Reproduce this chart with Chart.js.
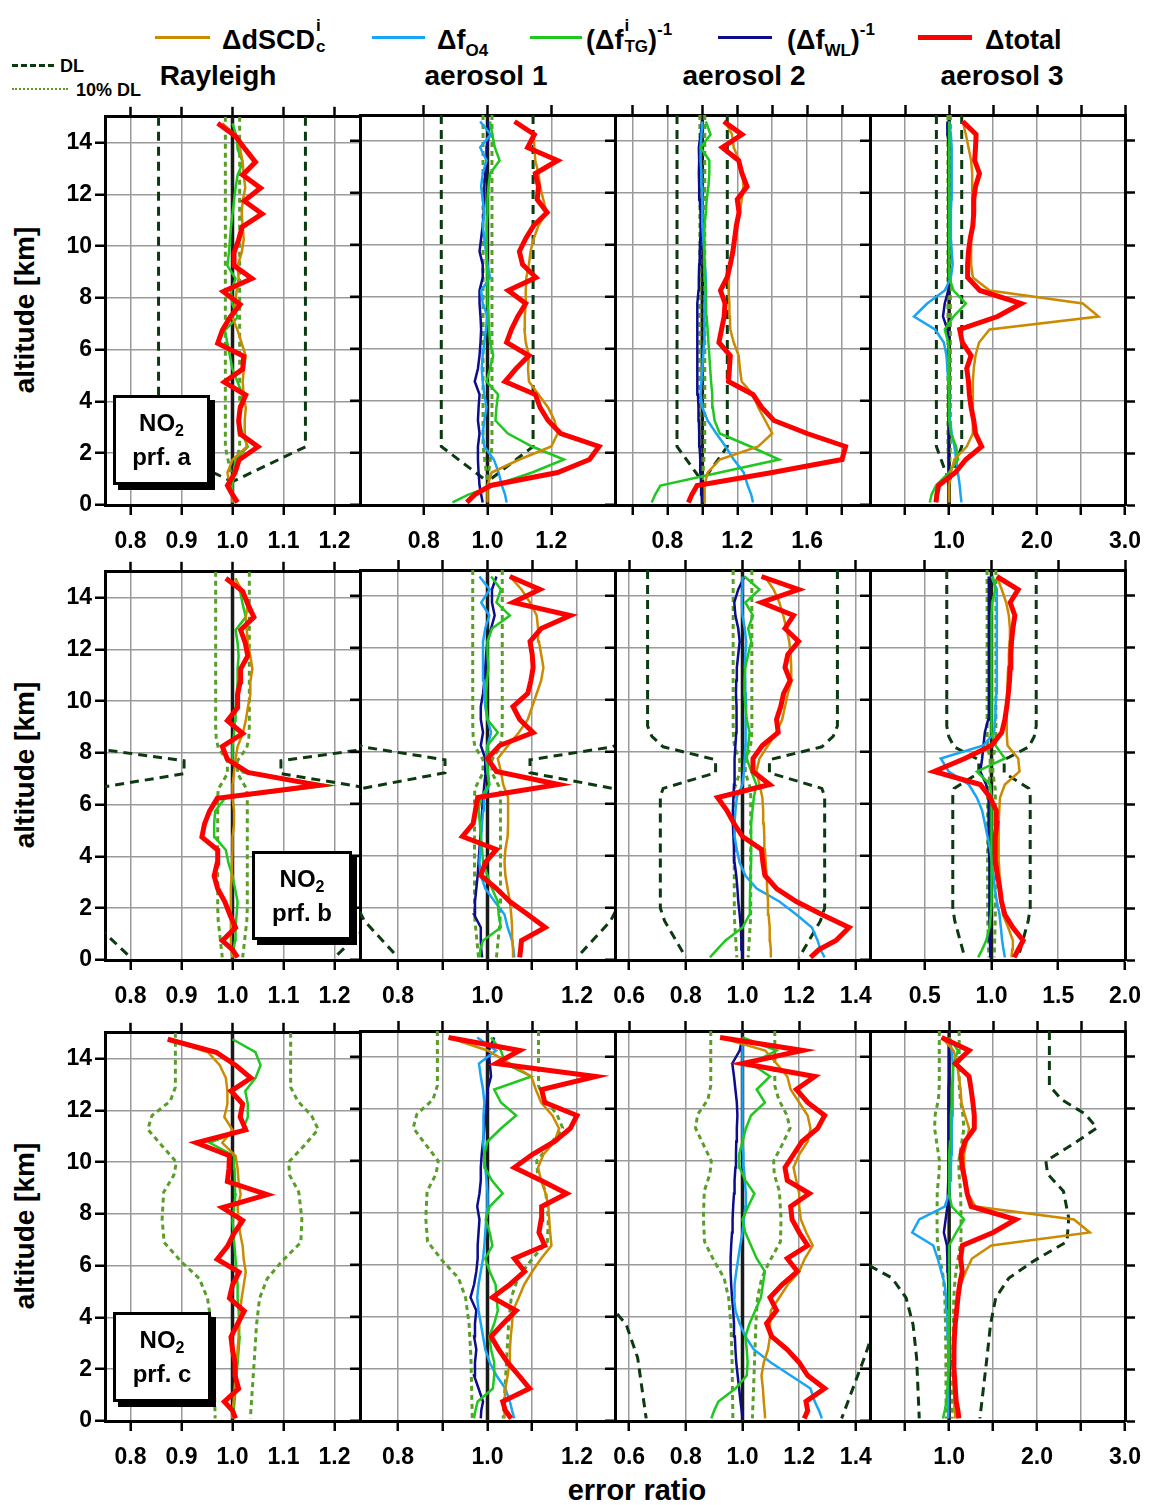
<!DOCTYPE html>
<html>
<head>
<meta charset="utf-8">
<title>NO2 error ratio profiles</title>
<script src="https://cdn.jsdelivr.net/npm/chart.js@4.4.1/dist/chart.umd.min.js"></script>
<style>
html,body{margin:0;padding:0;background:#fff}
body{width:1152px;height:1505px;position:relative;overflow:hidden;font-family:'Liberation Sans',Arial,sans-serif}
canvas{position:absolute}
.t{position:absolute;font-weight:bold;color:#000;white-space:nowrap;line-height:1}
.lt{font-size:27px}
.lt sub{font-size:17px;vertical-align:-7px;line-height:0}
.lt sup{font-size:17px;vertical-align:14px;line-height:0}
.stk{display:inline-flex;flex-direction:column;font-size:17px;line-height:21px;vertical-align:top;position:relative;top:-12px;margin-left:1px}
.sw{position:absolute}
.ttl{font-size:28px}
.ylab{font-size:28px;transform:translate(-50%,-50%) rotate(-90deg)}
.box{position:absolute;background:#fff;border:3px solid #000;box-shadow:5px 5px 0 #000;font-weight:bold;font-size:24px;text-align:center;line-height:34px;box-sizing:border-box;padding-top:8px}
.box sub{font-size:16px;vertical-align:-5px;line-height:0}
</style>
</head>
<body>
<!-- legend -->
<div class="sw" style="left:155px;top:36px;width:55px;height:3px;background:#cc8a00"></div>
<div class="t lt" style="left:222px;top:27px">ΔdSCD<span class="stk"><span>i</span><span>c</span></span></div>
<div class="sw" style="left:372px;top:36px;width:53px;height:3px;background:#19a5f5"></div>
<div class="t lt" style="left:437px;top:27px">Δf<sub>O4</sub></div>
<div class="sw" style="left:530px;top:36px;width:52px;height:3px;background:#1ec81e"></div>
<div class="t lt" style="left:586px;top:27px">(Δf<span class="stk"><span>i</span><span>TG</span></span>)<sup>-1</sup></div>
<div class="sw" style="left:718px;top:36px;width:54px;height:3px;background:#0c0c8c"></div>
<div class="t lt" style="left:787px;top:27px">(Δf<sub>WL</sub>)<sup>-1</sup></div>
<div class="sw" style="left:918px;top:35px;width:54px;height:5px;background:#ff0000"></div>
<div class="t lt" style="left:985px;top:27px">Δtotal</div>

<div class="sw" style="left:12px;top:64px;width:42px;height:0;border-top:3px dashed #0b3a10"></div>
<div class="t" style="left:60px;top:57px;font-size:18px">DL</div>
<div class="sw" style="left:12px;top:88px;width:56px;height:0;border-top:2px dotted #5a9e2a"></div>
<div class="t" style="left:76px;top:81px;font-size:18px">10% DL</div>

<div class="t ttl" style="left:218px;top:62px;transform:translateX(-50%)">Rayleigh</div>
<div class="t ttl" style="left:486px;top:62px;transform:translateX(-50%)">aerosol 1</div>
<div class="t ttl" style="left:744px;top:62px;transform:translateX(-50%)">aerosol 2</div>
<div class="t ttl" style="left:1002px;top:62px;transform:translateX(-50%)">aerosol 3</div>

<div class="t ylab" style="left:25px;top:310px">altitude [km]</div>
<div class="t ylab" style="left:25px;top:765px">altitude [km]</div>
<div class="t ylab" style="left:25px;top:1226px">altitude [km]</div>
<div class="t" style="left:637px;top:1476px;font-size:29px;transform:translateX(-50%)">error ratio</div>

<script>
// ---------- altitude grid (km) ----------
const ALT = [0.1, 0.4, 0.75, 1.25, 1.75, 2.25, 2.75, 3.25, 3.75, 4.25,
  4.75, 5.25, 5.75, 6.25, 6.75, 7.25, 7.75, 8.25, 8.75, 9.25,
  9.75, 10.25, 10.75, 11.25, 11.75, 12.25, 12.75, 13.25, 13.75, 14.25, 14.75];

// ---------- NO2 profile a ----------
const PA_RAY_TOT = [1.01, 1.0, 0.99, 1.005, 1.013, 1.05, 1.015, 1.012, 1.015, 1.026,
  0.984, 1.02, 1.022, 0.971, 0.98, 0.995, 1.015, 0.982, 1.038, 1.003,
  1.003, 1.012, 1.019, 1.058, 1.023, 1.055, 1.02, 1.045, 1.025, 1.006, 0.971];
const PA_RAY_DSCD = [1.0, 1.0, 0.995, 0.99, 1.0, 1.028, 1.024, 1.024, 1.026, 1.022,
  1.02, 1.022, 1.026, 1.018, 1.01, 1.0, 1.005, 1.008, 1.012, 1.01,
  1.018, 1.022, 1.02, 1.018, 1.02, 1.025, 1.022, 1.02, 1.015, 1.008, 0.98];
const PA_RAY_TG = [1.0, 1.0, 1.0, 1.002, 1.006, 1.03, 1.02, 1.013, 1.015, 1.02,
  1.01, 1.0, 0.995, 0.99, 0.985, 1.01, 1.0, 0.997, 1.006, 0.99,
  0.993, 0.995, 0.997, 1.0, 1.003, 1.006, 1.01, 1.02, 1.01, 1.008, 1.0];

const PA_AE1_TOT = [0.935, 0.96, 1.01, 1.22, 1.32, 1.35, 1.23, 1.19, 1.165, 1.15,
  1.055, 1.09, 1.13, 1.06, 1.075, 1.095, 1.12, 1.065, 1.152, 1.11,
  1.1, 1.12, 1.145, 1.187, 1.156, 1.16, 1.15, 1.22, 1.126, 1.147, 1.085];
const PA_AE1_DSCD = [1.0, 1.0, 1.0, 1.013, 1.1, 1.2, 1.22, 1.21, 1.19, 1.16,
  1.13, 1.127, 1.13, 1.12, 1.116, 1.117, 1.12, 1.12, 1.122, 1.13,
  1.135, 1.145, 1.16, 1.185, 1.175, 1.165, 1.16, 1.15, 1.147, 1.145, 1.085];
const PA_AE1_O4 = [1.06, 1.055, 1.045, 1.035, 1.02, 0.99, 0.985, 0.99, 0.997, 0.99,
  0.985, 0.982, 0.985, 0.99, 0.995, 1.0, 0.985, 0.98, 1.008, 1.0,
  0.995, 0.99, 0.985, 0.99, 0.985, 0.98, 0.985, 0.997, 0.977, 1.01, 0.977];
const PA_AE1_TG = [0.89, 0.94, 1.02, 1.14, 1.24, 1.14, 1.064, 1.025, 1.028, 1.033,
  0.997, 1.008, 1.018, 1.008, 1.005, 1.003, 1.0, 1.0, 1.0, 0.998,
  0.997, 0.997, 0.998, 1.0, 1.0, 1.003, 1.008, 1.038, 1.023, 1.015, 1.008];
const PA_AE1_WL = [0.985, 0.98, 0.975, 0.972, 0.97, 0.97, 0.975, 0.97, 0.972, 0.975,
  0.96, 0.97, 0.975, 0.978, 0.98, 0.978, 0.975, 0.975, 0.985, 0.985,
  0.975, 0.98, 0.985, 0.988, 0.99, 0.99, 0.993, 0.997, 0.997, 1.005, 1.0];

const PA_AE2_TOT = [0.92, 0.94, 0.97, 1.4, 1.8, 1.82, 1.6, 1.41, 1.34, 1.29,
  1.15, 1.155, 1.16, 1.095, 1.11, 1.125, 1.13, 1.104, 1.142, 1.16,
  1.175, 1.185, 1.195, 1.21, 1.2, 1.256, 1.227, 1.208, 1.114, 1.227, 1.123];
const PA_AE2_DSCD = [1.01, 1.012, 1.015, 1.03, 1.1, 1.32, 1.4, 1.36, 1.32, 1.29,
  1.225, 1.215, 1.208, 1.18, 1.16, 1.158, 1.155, 1.15, 1.152, 1.16,
  1.17, 1.185, 1.2, 1.215, 1.225, 1.235, 1.23, 1.21, 1.18, 1.17, 1.13];
const PA_AE2_O4 = [1.29, 1.28, 1.26, 1.237, 1.18, 1.133, 1.08, 1.03, 1.0, 0.99,
  0.995, 1.0, 1.005, 1.01, 1.01, 1.012, 1.015, 1.018, 1.02, 1.015,
  1.01, 1.005, 1.0, 1.0, 1.0, 0.998, 0.995, 0.99, 0.99, 0.995, 1.0];
const PA_AE2_TG = [0.71, 0.73, 0.76, 1.1, 1.44, 1.275, 1.1, 1.07, 1.06, 1.057,
  1.05, 1.045, 1.04, 1.035, 1.03, 1.025, 1.022, 1.02, 1.015, 1.012,
  1.01, 1.012, 1.015, 1.02, 1.025, 1.035, 1.04, 1.04, 0.99, 1.047, 1.02];
const PA_AE2_WL = [1.0, 0.998, 0.993, 0.99, 0.988, 0.985, 0.982, 0.98, 0.978, 0.975,
  0.972, 0.97, 0.97, 0.97, 0.97, 0.972, 0.975, 0.978, 0.98, 0.982,
  0.985, 0.988, 0.99, 0.99, 0.985, 0.982, 0.98, 0.982, 0.98, 0.99, 1.0];

const PA_AE3_TOT = [0.85, 0.86, 0.88, 1.07, 1.19, 1.37, 1.3, 1.28, 1.25, 1.23,
  1.22, 1.2, 1.25, 1.15, 1.12, 1.55, 1.82, 1.35, 1.21, 1.21,
  1.22, 1.24, 1.27, 1.28, 1.28, 1.3, 1.345, 1.29, 1.3, 1.307, 1.155];
const PA_AE3_DSCD = [1.0, 1.0, 1.0, 1.02, 1.06, 1.2, 1.27, 1.27, 1.27, 1.27,
  1.27, 1.28, 1.3, 1.34, 1.46, 2.7, 2.52, 1.46, 1.27, 1.25,
  1.25, 1.25, 1.26, 1.26, 1.26, 1.26, 1.27, 1.25, 1.22, 1.19, 1.155];
const PA_AE3_O4 = [1.14, 1.13, 1.12, 1.1, 1.08, 1.06, 1.03, 1.01, 1.0, 1.0,
  0.99, 0.98, 0.97, 0.94, 0.84, 0.6, 0.75, 0.95, 1.02, 1.04,
  1.03, 1.02, 1.02, 1.02, 1.025, 1.025, 1.03, 1.03, 1.03, 1.02, 1.0];
const PA_AE3_TG = [0.78, 0.8, 0.85, 1.0, 1.1, 1.08, 1.02, 1.0, 1.0, 1.0,
  1.0, 1.0, 1.0, 0.99, 0.95, 1.05, 1.19, 1.05, 1.0, 1.0,
  1.0, 1.0, 1.0, 1.0, 1.0, 1.0, 1.0, 1.0, 1.0, 1.0, 1.0];
const PA_AE3_WL = [0.995, 0.995, 0.995, 0.995, 0.995, 0.995, 0.995, 0.995, 0.995, 0.995,
  0.995, 0.995, 0.995, 0.99, 0.98, 0.93, 0.95, 0.99, 0.995, 0.995,
  0.995, 0.995, 0.995, 0.995, 0.995, 0.995, 0.995, 0.995, 0.99, 0.985, 0.98];

// ---------- NO2 profile b ----------
const PB_RAY_TOT = [1.01, 1.0, 0.98, 1.006, 0.995, 0.985, 0.971, 0.964, 0.97, 0.971,
  0.94, 0.945, 0.955, 0.97, 1.169, 1.03, 0.99, 0.98, 1.02, 0.99,
  1.01, 1.01, 1.015, 1.016, 1.03, 1.025, 1.016, 1.042, 1.03, 1.02, 0.987];
const PB_RAY_DSCD = [1.0, 0.997, 0.996, 0.997, 0.997, 0.997, 0.997, 0.998, 0.999, 1.0,
  1.0, 1.003, 1.003, 1.0, 1.0, 1.003, 1.006, 1.01, 1.02, 1.026,
  1.03, 1.035, 1.035, 1.039, 1.035, 1.03, 1.028, 1.026, 1.03, 1.02, 1.005];
const PB_RAY_TG = [1.0, 1.002, 1.005, 1.006, 1.008, 1.01, 1.005, 1.0, 0.992, 0.987,
  0.965, 0.964, 0.966, 0.985, 1.188, 1.02, 1.0, 1.0, 1.003, 1.005,
  1.006, 1.008, 1.01, 1.01, 1.012, 1.01, 1.006, 1.026, 1.02, 1.015, 1.006];

const PB_AE1_TOT = [1.072, 1.074, 1.076, 1.129, 1.09, 1.05, 1.02, 0.985, 0.995, 1.02,
  0.944, 0.968, 0.973, 0.978, 1.159, 1.02, 1.0, 1.027, 1.102, 1.072,
  1.057, 1.09, 1.097, 1.102, 1.1, 1.095, 1.12, 1.185, 1.057, 1.117, 1.05];
const PB_AE1_DSCD = [1.057, 1.057, 1.056, 1.055, 1.053, 1.05, 1.045, 1.04, 1.038, 1.04,
  1.045, 1.046, 1.046, 1.046, 1.035, 1.03, 1.023, 1.046, 1.07, 1.09,
  1.1, 1.11, 1.12, 1.125, 1.12, 1.115, 1.113, 1.11, 1.095, 1.076, 1.05];
const PB_AE1_O4 = [1.06, 1.058, 1.055, 1.045, 1.038, 1.016, 0.995, 0.985, 0.982, 0.984,
  0.986, 0.988, 0.99, 0.992, 1.004, 1.0, 0.997, 1.0, 1.008, 1.0,
  0.995, 0.993, 0.992, 0.99, 0.99, 0.99, 0.995, 1.004, 0.986, 1.005, 0.982];
const PB_AE1_TG = [0.982, 0.984, 0.99, 1.03, 1.025, 1.023, 1.01, 1.0, 0.99, 0.988,
  0.985, 0.983, 0.98, 0.985, 1.004, 1.0, 1.0, 1.0, 1.023, 1.0,
  0.997, 0.997, 0.999, 1.002, 1.0, 1.0, 1.01, 1.05, 1.02, 1.03, 1.008];
const PB_AE1_WL = [0.988, 0.986, 0.985, 0.985, 0.97, 0.972, 0.975, 0.978, 0.98, 0.982,
  0.984, 0.986, 0.988, 0.99, 0.993, 0.996, 0.995, 0.985, 0.99, 0.985,
  0.985, 0.99, 0.993, 0.995, 0.997, 1.0, 1.008, 1.016, 1.01, 1.01, 1.02];

const PB_AE2_TOT = [1.24, 1.27, 1.33, 1.376, 1.28, 1.19, 1.12, 1.079, 1.072, 1.067,
  1.0, 0.97, 0.945, 0.912, 1.096, 1.037, 1.037, 1.07, 1.126, 1.12,
  1.135, 1.145, 1.168, 1.15, 1.16, 1.198, 1.15, 1.18, 1.067, 1.198, 1.067];
const PB_AE2_DSCD = [1.1, 1.1, 1.097, 1.096, 1.092, 1.09, 1.087, 1.085, 1.082, 1.079,
  1.077, 1.075, 1.073, 1.07, 1.06, 1.049, 1.06, 1.09, 1.12, 1.14,
  1.15, 1.16, 1.174, 1.172, 1.17, 1.165, 1.155, 1.144, 1.13, 1.11, 1.079];
const PB_AE2_O4 = [1.29, 1.275, 1.265, 1.245, 1.19, 1.13, 1.05, 1.01, 0.99, 0.98,
  0.972, 0.972, 0.975, 0.98, 1.0, 1.005, 1.008, 1.01, 1.01, 1.012,
  1.013, 1.012, 1.01, 1.008, 1.01, 1.013, 1.008, 1.0, 0.998, 1.0, 1.0];
const PB_AE2_TG = [0.885, 0.91, 0.94, 1.0, 1.025, 1.026, 1.027, 1.028, 1.03, 1.031,
  1.03, 1.03, 1.035, 1.04, 1.049, 1.031, 1.015, 1.02, 1.025, 1.015,
  1.01, 1.007, 1.007, 1.01, 1.02, 1.031, 1.02, 1.037, 1.01, 1.06, 1.007];
const PB_AE2_WL = [1.0, 0.998, 0.996, 0.994, 0.99, 0.985, 0.982, 0.978, 0.972, 0.97,
  0.968, 0.966, 0.966, 0.968, 0.97, 0.971, 0.973, 0.975, 0.978, 0.98,
  0.978, 0.977, 0.978, 0.98, 0.985, 0.99, 0.985, 0.975, 0.971, 0.985, 1.007];

const PB_AE3_TOT = [1.17, 1.2, 1.237, 1.16, 1.1, 1.075, 1.062, 1.045, 1.03, 1.027,
  1.03, 1.04, 1.035, 0.99, 0.916, 0.57, 0.8, 1.0, 1.077, 1.1,
  1.115, 1.126, 1.135, 1.14, 1.145, 1.15, 1.16, 1.175, 1.14, 1.2, 1.04];
const PB_AE3_DSCD = [1.15, 1.155, 1.16, 1.125, 1.085, 1.075, 1.07, 1.06, 1.055, 1.052,
  1.053, 1.055, 1.058, 1.064, 1.1, 1.21, 1.2, 1.12, 1.114, 1.114,
  1.115, 1.118, 1.12, 1.125, 1.13, 1.135, 1.138, 1.13, 1.11, 1.077, 1.04];
const PB_AE3_O4 = [1.1, 1.09, 1.08, 1.07, 1.06, 1.04, 1.025, 1.015, 1.005, 0.99,
  0.97, 0.95, 0.93, 0.89, 0.83, 0.68, 0.62, 0.94, 1.02, 1.027,
  1.03, 1.035, 1.04, 1.04, 1.04, 1.04, 1.04, 1.04, 1.04, 1.04, 1.0];
const PB_AE3_TG = [0.9, 0.93, 0.96, 0.985, 0.995, 1.0, 1.0, 1.0, 1.0, 1.0,
  1.0, 1.0, 1.0, 1.0, 0.99, 0.89, 1.1, 1.03, 1.0, 1.0,
  1.0, 1.0, 1.0, 1.0, 1.0, 1.0, 1.0, 1.0, 1.005, 1.03, 1.01];
const PB_AE3_WL = [0.99, 0.99, 0.988, 0.987, 0.986, 0.985, 0.984, 0.983, 0.982, 0.981,
  0.98, 0.98, 0.978, 0.975, 0.96, 0.916, 0.93, 0.94, 0.95, 0.975,
  0.978, 0.98, 0.98, 0.98, 0.98, 0.98, 0.98, 0.98, 0.98, 0.98, 0.98];

// ---------- NO2 profile c ----------
const PC_RAY_TOT = [1.006, 1.0, 0.984, 1.012, 1.005, 1.005, 1.0, 0.997, 1.01, 1.023,
  0.994, 1.0, 1.013, 0.97, 0.99, 1.003, 1.02, 0.98, 1.068, 0.99,
  0.993, 0.994, 0.929, 1.026, 1.015, 1.02, 0.997, 1.036, 1.006, 0.968, 0.873];
const PC_RAY_DSCD = [1.0, 1.0, 1.002, 1.004, 1.006, 1.008, 1.01, 1.012, 1.013, 1.015,
  1.018, 1.022, 1.026, 1.022, 1.02, 1.015, 1.012, 1.01, 1.016, 1.012,
  1.01, 1.006, 0.98, 1.0, 0.984, 0.99, 0.99, 0.987, 0.975, 0.952, 0.873];
const PC_RAY_TG = [1.0, 1.002, 1.004, 1.006, 1.008, 1.01, 1.012, 1.014, 1.013, 1.012,
  1.01, 1.01, 1.008, 1.006, 1.004, 1.002, 1.0, 1.003, 1.006, 1.005,
  1.004, 1.003, 0.955, 1.02, 1.03, 1.03, 1.025, 1.045, 1.055, 1.045, 1.0];

const PC_AE1_TOT = [1.053, 1.04, 1.034, 1.094, 1.07, 1.045, 1.025, 1.008, 1.035, 1.064,
  1.011, 1.05, 1.083, 1.06, 1.128, 1.115, 1.12, 1.121, 1.177, 1.12,
  1.06, 1.1, 1.15, 1.185, 1.2, 1.128, 1.121, 1.242, 1.019, 1.072, 0.913];
const PC_AE1_DSCD = [1.038, 1.038, 1.038, 1.04, 1.045, 1.049, 1.05, 1.052, 1.055, 1.057,
  1.07, 1.082, 1.1, 1.12, 1.143, 1.14, 1.138, 1.136, 1.13, 1.12,
  1.113, 1.125, 1.15, 1.16, 1.145, 1.12, 1.108, 1.098, 1.05, 1.0, 0.913];
const PC_AE1_O4 = [1.06, 1.055, 1.05, 1.04, 1.02, 1.005, 0.995, 0.99, 0.985, 0.98,
  0.977, 0.98, 0.985, 0.99, 0.993, 0.995, 0.997, 1.0, 1.0, 0.998,
  0.995, 0.993, 0.99, 0.99, 0.992, 0.993, 0.99, 0.985, 0.981, 1.019, 0.977];
const PC_AE1_TG = [0.97, 0.973, 0.978, 1.012, 1.015, 1.015, 1.008, 1.004, 1.015, 1.023,
  1.02, 1.018, 1.005, 0.995, 1.011, 1.005, 0.996, 1.005, 1.034, 1.01,
  0.994, 0.993, 1.0, 1.03, 1.064, 1.03, 1.015, 1.098, 1.04, 1.03, 1.008];
const PC_AE1_WL = [0.985, 0.986, 0.99, 0.98, 0.97, 0.972, 0.975, 0.97, 0.972, 0.975,
  0.962, 0.97, 0.975, 0.978, 0.978, 0.98, 0.982, 0.977, 0.982, 0.985,
  0.985, 0.987, 0.99, 0.993, 0.995, 0.998, 1.0, 1.008, 1.005, 1.003, 1.015];

const PC_AE2_TOT = [1.218, 1.23, 1.224, 1.29, 1.23, 1.2, 1.158, 1.103, 1.085, 1.12,
  1.097, 1.14, 1.194, 1.158, 1.23, 1.2, 1.175, 1.17, 1.236, 1.158,
  1.15, 1.18, 1.21, 1.265, 1.29, 1.23, 1.19, 1.255, 1.0, 1.212, 0.921];
const PC_AE2_DSCD = [1.08, 1.078, 1.075, 1.072, 1.067, 1.075, 1.09, 1.097, 1.097, 1.1,
  1.13, 1.16, 1.2, 1.22, 1.248, 1.225, 1.206, 1.2, 1.2, 1.19,
  1.18, 1.2, 1.23, 1.24, 1.23, 1.2, 1.17, 1.158, 1.12, 1.08, 0.921];
const PC_AE2_O4 = [1.28, 1.27, 1.255, 1.24, 1.17, 1.1, 1.04, 1.01, 0.99, 0.975,
  0.97, 0.972, 0.978, 0.985, 0.992, 1.0, 1.005, 1.01, 1.012, 1.008,
  1.005, 1.003, 1.0, 1.0, 1.0, 1.0, 1.0, 1.0, 1.0, 1.0, 1.0];
const PC_AE2_TG = [0.89, 0.9, 0.915, 0.975, 1.015, 1.018, 1.015, 1.01, 1.025, 1.045,
  1.065, 1.072, 1.079, 1.05, 1.03, 1.01, 1.0, 1.02, 1.042, 1.01,
  0.99, 0.988, 1.0, 1.012, 1.03, 1.079, 1.05, 1.097, 1.03, 1.12, 1.0];
const PC_AE2_WL = [1.0, 0.997, 0.993, 0.988, 0.983, 0.978, 0.975, 0.973, 0.97, 0.967,
  0.963, 0.96, 0.958, 0.958, 0.96, 0.963, 0.965, 0.967, 0.97, 0.972,
  0.975, 0.977, 0.978, 0.98, 0.982, 0.98, 0.975, 0.97, 0.964, 0.99, 1.0];

const PC_AE3_TOT = [1.11, 1.1, 1.08, 1.07, 1.06, 1.05, 1.055, 1.06, 1.07, 1.085,
  1.1, 1.12, 1.149, 1.13, 1.15, 1.5, 1.757, 1.25, 1.205, 1.18,
  1.15, 1.135, 1.18, 1.286, 1.286, 1.27, 1.25, 1.227, 1.07, 1.227, 0.914];
const PC_AE3_DSCD = [1.07, 1.065, 1.06, 1.055, 1.05, 1.05, 1.055, 1.06, 1.07, 1.085,
  1.1, 1.13, 1.19, 1.26, 1.48, 2.6, 2.42, 1.3, 1.21, 1.19,
  1.17, 1.17, 1.2, 1.227, 1.18, 1.14, 1.13, 1.11, 1.09, 1.05, 0.914];
const PC_AE3_O4 = [0.99, 0.99, 0.99, 0.99, 0.99, 0.99, 0.99, 0.985, 0.98, 0.975,
  0.965, 0.95, 0.91, 0.87, 0.82, 0.58, 0.66, 0.95, 1.0, 1.01,
  1.02, 1.025, 1.03, 1.03, 1.035, 1.04, 1.04, 1.045, 1.04, 1.03, 1.0];
const PC_AE3_TG = [0.93, 0.95, 0.97, 0.98, 0.99, 1.0, 1.0, 1.0, 1.0, 1.0,
  1.0, 1.0, 1.0, 1.0, 1.0, 1.08, 1.17, 1.03, 1.0, 1.0,
  1.0, 1.0, 1.01, 1.02, 1.02, 1.03, 1.03, 1.04, 1.05, 1.1, 1.0];
const PC_AE3_WL = [0.99, 0.99, 0.99, 0.99, 0.99, 0.99, 0.99, 0.99, 0.99, 0.99,
  0.99, 0.99, 0.985, 0.98, 0.975, 0.94, 0.96, 0.98, 0.985, 0.99,
  0.99, 0.99, 0.99, 0.99, 0.995, 0.995, 0.995, 1.0, 1.0, 1.0, 1.0];

// ---------- detection limits ----------
const DL1_ALT = [15, 2.25, 0.9];
const DL1_LO = [0.855, 0.855, 1.0];
const DL1_HI = [1.143, 1.143, 1.0];
const TEN1_LO = [0.986, 0.986, 1.0];
const TEN1_HI = [1.014, 1.014, 1.0];

const DL2_ALT = [15, 9.0, 8.6, 8.2, 7.7, 7.2, 6.6, 6.3, 2.0, 1.5, 0.1];
const DL2_LO = [0.665, 0.665, 0.68, 0.72, 0.905, 0.905, 0.72, 0.71, 0.71, 0.725, 0.8];
const DL2_HI = [1.335, 1.335, 1.32, 1.28, 1.095, 1.095, 1.28, 1.29, 1.29, 1.275, 1.2];
const TEN2_LO = [0.967, 0.967, 0.968, 0.972, 0.99, 0.99, 0.972, 0.971, 0.971, 0.972, 0.98];
const TEN2_HI = [1.033, 1.033, 1.032, 1.028, 1.01, 1.01, 1.028, 1.029, 1.029, 1.028, 1.02];

const DL3_ALT = [15, 12.9, 12.36, 11.8, 11.27, 10.63, 10.0, 9.5, 8.84, 7.8, 6.9, 6.15, 5.5, 4.74, 3.7, 2.43, 0.1];
const DL3_LO = [-0.12, -0.12, -0.22, -0.58, -0.66, -0.38, -0.1, -0.15, -0.35, -0.38, -0.34, 0.0, 0.35, 0.51, 0.59, 0.63, 0.66];
const DL3_HI = [2.14, 2.14, 2.28, 2.55, 2.68, 2.4, 2.1, 2.12, 2.3, 2.36, 2.34, 1.96, 1.68, 1.53, 1.47, 1.43, 1.35];
const TEN3_LO = [0.888, 0.888, 0.878, 0.842, 0.834, 0.862, 0.89, 0.885, 0.865, 0.862, 0.866, 0.9, 0.935, 0.951, 0.959, 0.963, 0.966];
const TEN3_HI = [1.114, 1.114, 1.128, 1.155, 1.168, 1.14, 1.11, 1.112, 1.13, 1.136, 1.134, 1.096, 1.068, 1.053, 1.047, 1.043, 1.035];

// reference line (ratio = 1)
const REF_X = [1, 1];
const REF_ALT = [0, 15];

// ---------- axes ----------
const Y_TICKS = [0, 2, 4, 6, 8, 10, 12, 14];
const X_MIN = [[0.75, 0.6, 0.5, 0.1], [0.75, 0.715, 0.55, 0.09], [0.75, 0.715, 0.55, 0.1]];
const X_MAX = [[1.25, 1.4, 1.96, 3.0], [1.25, 1.285, 1.45, 2.0], [1.25, 1.285, 1.45, 3.0]];
const XT_R01 = [0.8, 0.9, 1.0, 1.1, 1.2];
const XT_A1_A = [0.8, 1.0, 1.2];
const XT_A2_A = [0.6, 0.8, 1.0, 1.2, 1.4, 1.6, 1.8];
const XL_A2_A = [0.8, 1.2, 1.6];
const XT_A3_AC = [0.5, 1.0, 1.5, 2.0, 2.5, 3.0];
const XL_A3_AC = [1.0, 2.0, 3.0];
const XL_A1_BC = [0.8, 1.0, 1.2];
const XT_A2_BC = [0.6, 0.8, 1.0, 1.2, 1.4];
const XT_A3_B = [0.5, 1.0, 1.5, 2.0];
const X_TICKS = [[XT_R01, XT_A1_A, XT_A2_A, XT_A3_AC], [XT_R01, XT_R01, XT_A2_BC, XT_A3_B], [XT_R01, XT_R01, XT_A2_BC, XT_A3_AC]];
const X_LABELS = [[XT_R01, XT_A1_A, XL_A2_A, XL_A3_AC], [XT_R01, XL_A1_BC, XT_A2_BC, XT_A3_B], [XT_R01, XL_A1_BC, XT_A2_BC, XL_A3_AC]];

// ---------- table built from the arrays ----------
const SERIES = [
  [[PA_RAY_TOT, PA_RAY_DSCD, PA_RAY_TG, null, null],
   [PA_AE1_TOT, PA_AE1_DSCD, PA_AE1_TG, PA_AE1_O4, PA_AE1_WL],
   [PA_AE2_TOT, PA_AE2_DSCD, PA_AE2_TG, PA_AE2_O4, PA_AE2_WL],
   [PA_AE3_TOT, PA_AE3_DSCD, PA_AE3_TG, PA_AE3_O4, PA_AE3_WL]],
  [[PB_RAY_TOT, PB_RAY_DSCD, PB_RAY_TG, null, null],
   [PB_AE1_TOT, PB_AE1_DSCD, PB_AE1_TG, PB_AE1_O4, PB_AE1_WL],
   [PB_AE2_TOT, PB_AE2_DSCD, PB_AE2_TG, PB_AE2_O4, PB_AE2_WL],
   [PB_AE3_TOT, PB_AE3_DSCD, PB_AE3_TG, PB_AE3_O4, PB_AE3_WL]],
  [[PC_RAY_TOT, PC_RAY_DSCD, PC_RAY_TG, null, null],
   [PC_AE1_TOT, PC_AE1_DSCD, PC_AE1_TG, PC_AE1_O4, PC_AE1_WL],
   [PC_AE2_TOT, PC_AE2_DSCD, PC_AE2_TG, PC_AE2_O4, PC_AE2_WL],
   [PC_AE3_TOT, PC_AE3_DSCD, PC_AE3_TG, PC_AE3_O4, PC_AE3_WL]]
];
const DLS = [[DL1_ALT, DL1_LO, DL1_HI, TEN1_LO, TEN1_HI],
             [DL2_ALT, DL2_LO, DL2_HI, TEN2_LO, TEN2_HI],
             [DL3_ALT, DL3_LO, DL3_HI, TEN3_LO, TEN3_HI]];
const BOX_TEXT = ['prf. a', 'prf. b', 'prf. c'];

// ---------- layout & style ----------
const PANEL_LEFT = [105, 360, 615, 870];
const PANEL_TOP = [115, 570, 1031];
const PW = 255, PH = 390;
const ML = 65, MR = 40, MT = 15, MB = 50;
const BOX_POS = [[113, 395, 97, 90], [252, 851, 100, 89], [113, 1312, 98, 90]];
const FONT = "'Liberation Sans', Arial, sans-serif";
const GRID = '#9a9a9a';
const STY = [
  { color: '#ff0000', width: 5 },   // total
  { color: '#cc8a00', width: 2.5 }, // dSCD
  { color: '#1ec81e', width: 2.5 }, // f_TG
  { color: '#19a5f5', width: 2.5 }, // f_O4
  { color: '#0c0c8c', width: 2.5 }  // f_WL
];
const STY_TEN = { color: '#5a9e2a', width: 3, dash: [5, 4] };
const STY_DL = { color: '#0b3a10', width: 3, dash: [9, 6] };
const STY_REF = { color: '#1a1a1a', width: 3.5 };

Chart.defaults.font.family = FONT;

function pts(xs, ys) { return xs.map((v, i) => ({ x: v, y: ys[i] })); }
function ds(data, s) {
  return { data, showLine: true, borderColor: s.color, borderWidth: s.width,
    borderDash: s.dash || [], pointRadius: 0, pointHoverRadius: 0, fill: false, tension: 0,
    xAxisID: 'x', yAxisID: 'y' };
}

function makePanel(r, c) {
  const W = PW + ML + MR, H = PH + MT + MB;
  const cv = document.createElement('canvas');
  cv.width = W; cv.height = H;
  cv.style.left = (PANEL_LEFT[c] - ML) + 'px';
  cv.style.top = (PANEL_TOP[r] - MT) + 'px';
  cv.style.width = W + 'px'; cv.style.height = H + 'px';
  document.body.appendChild(cv);

  const datasets = [];
  SERIES[r][c].forEach((arr, i) => { if (arr) datasets.push(ds(pts(arr, ALT), STY[i])); });
  const d = DLS[r];
  datasets.push(ds(pts(d[3], d[0]), STY_TEN), ds(pts(d[4], d[0]), STY_TEN));
  datasets.push(ds(pts(REF_X, REF_ALT), STY_REF));
  datasets.push(ds(pts(d[1], d[0]), STY_DL), ds(pts(d[2], d[0]), STY_DL));

  const xt = X_TICKS[r][c], xl = X_LABELS[r][c];
  const tickFont = { family: FONT, size: 23, weight: 'bold' };
  const border = { color: '#000', width: 3 };
  const setX = ax => { ax.ticks = xt.map(v => ({ value: v })); };
  const setY = ax => { ax.ticks = Y_TICKS.map(v => ({ value: v })); };

  new Chart(cv, {
    type: 'scatter',
    data: { datasets },
    options: {
      responsive: false, animation: false, events: [],
      layout: { padding: 0, autoPadding: false },
      plugins: { legend: { display: false }, tooltip: { enabled: false } },
      scales: {
        x: { type: 'linear', position: 'bottom', min: X_MIN[r][c], max: X_MAX[r][c],
          afterBuildTicks: setX, afterFit: s => { s.height = MB; },
          ticks: { autoSkip: false, maxRotation: 0, font: tickFont, color: '#000', padding: 13,
            callback: v => (xl.indexOf(v) >= 0 ? v.toFixed(1) : '') },
          grid: { color: GRID, lineWidth: 1.5, tickColor: '#000', tickWidth: 2.5, tickLength: 10 },
          border },
        xt: { type: 'linear', position: 'top', min: X_MIN[r][c], max: X_MAX[r][c],
          afterBuildTicks: setX, afterFit: s => { s.height = MT; },
          ticks: { display: false },
          grid: { drawOnChartArea: false, tickColor: '#000', tickWidth: 2.5, tickLength: 10 },
          border },
        y: { type: 'linear', position: 'left', min: 0, max: 15,
          afterBuildTicks: setY, afterFit: s => { s.width = ML; },
          ticks: { display: c === 0, autoSkip: false, font: tickFont, color: '#000', padding: 3 },
          grid: { color: GRID, lineWidth: 1.5, tickColor: '#000', tickWidth: 2.5, tickLength: 10 },
          border },
        yr: { type: 'linear', position: 'right', min: 0, max: 15,
          afterBuildTicks: setY, afterFit: s => { s.width = MR; },
          ticks: { display: false },
          grid: { drawOnChartArea: false, drawTicks: c === 3, tickColor: '#000', tickWidth: 2.5, tickLength: 10 },
          border }
      }
    }
  });
}

for (let r = 0; r < 3; r++) for (let c = 0; c < 4; c++) makePanel(r, c);

// NO2 profile boxes (on top of the charts)
BOX_TEXT.forEach((txt, r) => {
  const b = document.createElement('div');
  b.className = 'box';
  const p = BOX_POS[r];
  b.style.left = p[0] + 'px'; b.style.top = p[1] + 'px';
  b.style.width = p[2] + 'px'; b.style.height = p[3] + 'px';
  b.innerHTML = 'NO<sub>2</sub><br>' + txt;
  document.body.appendChild(b);
});
</script>
</body>
</html>
